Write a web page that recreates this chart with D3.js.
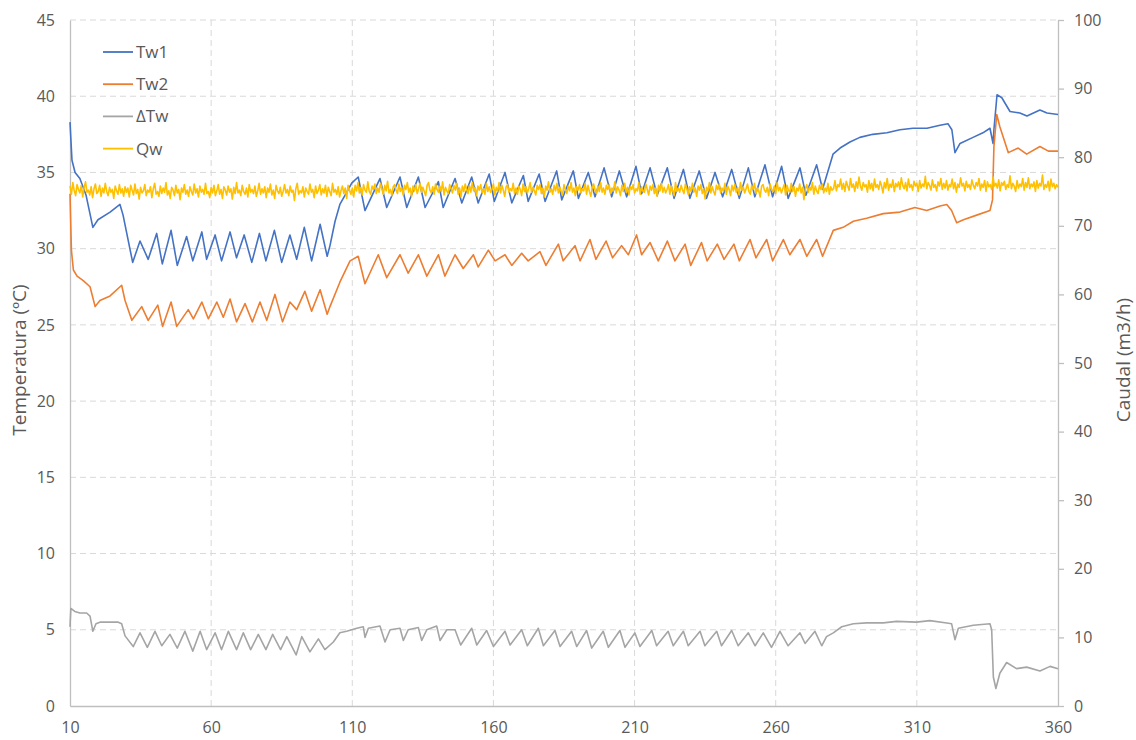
<!DOCTYPE html>
<html>
<head>
<meta charset="utf-8">
<script src="https://cdn.jsdelivr.net/npm/d3@7"></script>
<style>
  body { margin: 0; background: #fff; }
</style>
</head>
<body>
<div id="chart"></div>
<script>
// axis ticks
const xTicks = [10, 60, 110, 160, 210, 260, 310, 360];
const tempTicks = [0, 5, 10, 15, 20, 25, 30, 35, 40, 45];
const flowTicks = [0, 10, 20, 30, 40, 50, 60, 70, 80, 90, 100];

const seriesNames = ['Tw1', 'Tw2', '\u0394Tw', 'Qw'];

// Tw1 [time, ºC] - peaks and troughs
const tw1 = [
  [10, 38.3], [10.7, 35.8], [11.8, 35.0], [13.5, 34.6], [15.7, 33.5], [18.1, 31.4], [19.9, 31.9], [24.2, 32.4], [27.7, 32.9], [28.8, 32.2],
  [32.2, 29.1], [34.8, 30.5], [37.7, 29.3], [40.7, 31.0], [42.7, 29.0], [45.8, 31.2], [48.0, 28.9], [51.3, 30.8], [53.5, 29.2], [56.7, 31.1],
  [58.4, 29.3], [61.4, 30.9], [63.7, 29.2], [66.7, 31.1], [69.0, 29.4], [71.7, 30.9], [74.4, 29.1], [77.1, 31.0], [79.4, 29.2], [82.4, 31.2],
  [85.0, 29.1], [87.9, 30.9], [90.3, 29.3], [93.0, 31.4], [95.6, 29.2], [98.6, 31.6], [101.1, 29.5],
  [102.1, 30.2], [103.9, 31.8], [105.6, 32.9], [107.4, 33.5], [109.8, 34.3],
  [112.1, 34.7], [114.5, 32.5], [119.8, 34.6], [122.2, 32.7], [126.9, 34.7], [129.3, 32.7], [133.4, 34.7], [135.8, 32.7], [140.5, 34.4], [142.2, 32.7],
  [146.4, 34.6], [148.8, 33.0], [152.3, 34.7], [154.6, 33.0], [158.5, 34.9], [160.3, 33.1], [164.1, 35.0], [166.5, 33.0], [170.6, 34.8], [172.3, 33.1],
  [176.2, 34.9], [178.3, 33.1], [182.4, 35.1], [184.2, 33.2], [188.3, 35.1], [190.1, 33.3], [193.6, 35.0], [196.0, 33.4], [199.2, 35.3], [201.9, 33.4],
  [204.6, 35.1], [207.2, 33.4], [210.5, 35.4], [212.5, 33.6], [215.5, 35.3], [218.0, 33.5], [221.6, 35.3], [224.0, 33.3], [227.3, 35.2], [229.6, 33.3],
  [232.9, 35.1], [235.5, 33.3], [238.5, 35.0], [241.2, 33.4], [244.4, 35.2], [247.1, 33.3], [250.3, 35.3], [252.6, 33.4], [256.2, 35.5], [258.9, 33.4],
  [262.1, 35.4], [264.4, 33.3], [268.6, 35.3], [270.7, 33.5], [274.5, 35.5], [276.6, 33.9],
  [280.3, 36.2], [282.8, 36.6], [286.3, 37.0], [289.8, 37.3], [294.4, 37.5], [299.4, 37.6], [304.0, 37.8], [308.6, 37.9], [313.6, 37.9], [318.2, 38.1],
  [321.0, 38.2], [322.4, 37.8], [323.5, 36.3], [325.3, 36.9], [329.9, 37.3], [333.4, 37.6], [335.9, 37.9], [337.0, 36.9], [337.3, 37.8], [338.4, 40.1],
  [340.1, 39.9], [343.0, 39.0], [346.5, 38.9], [349.0, 38.7], [353.6, 39.1], [356.1, 38.9], [360, 38.8]
];

// Tw2 [time, ºC]
const tw2 = [
  [10, 33.6], [10.5, 29.9], [11.2, 28.6], [12.5, 28.2], [14.7, 27.9], [17.1, 27.5], [18.9, 26.2], [20.6, 26.6], [24.2, 26.9], [28.3, 27.6], [29.5, 26.6],
  [31.9, 25.3], [35.4, 26.2], [37.7, 25.3], [41.1, 26.3], [42.8, 24.9], [45.8, 26.5], [47.8, 24.9], [51.9, 26.0], [53.7, 25.4], [56.7, 26.5],
  [59.0, 25.4], [62.0, 26.5], [64.3, 25.5], [66.7, 26.7], [69.0, 25.2], [72.0, 26.4], [74.6, 25.2], [77.3, 26.5], [79.7, 25.3], [82.6, 27.0],
  [85.3, 25.2], [87.9, 26.5], [90.3, 26.0], [93.2, 27.2], [95.6, 25.9], [98.6, 27.3], [101.1, 25.7],
  [102.1, 26.2], [105.6, 27.8], [109.2, 29.2],
  [112.1, 29.5], [114.5, 27.7], [119.2, 29.6], [122.2, 28.1], [126.9, 29.6], [129.8, 28.4], [133.4, 29.6], [136.4, 28.2], [140.5, 29.6], [142.8, 28.2],
  [146.4, 29.6], [149.3, 28.7], [152.9, 29.6], [154.6, 28.8], [158.2, 29.9], [160.6, 29.2], [164.1, 29.6], [166.5, 28.9], [170.0, 29.7], [172.3, 29.2],
  [176.5, 29.8], [178.6, 28.9], [183.0, 30.3], [184.7, 29.2], [188.9, 30.2], [190.7, 29.2], [194.2, 30.6], [196.3, 29.3], [199.9, 30.5], [202.2, 29.4],
  [205.4, 30.2], [207.8, 29.6], [210.7, 30.9], [212.5, 29.6], [215.5, 30.4], [218.4, 29.2], [221.6, 30.5], [224.3, 29.2], [227.9, 30.3], [229.9, 28.9],
  [233.7, 30.4], [235.7, 29.2], [239.3, 30.3], [241.7, 29.3], [245.2, 30.3], [247.1, 29.2], [250.9, 30.6], [253.0, 29.4], [256.8, 30.6], [258.9, 29.2],
  [262.7, 30.6], [265.0, 29.6], [268.6, 30.6], [271.0, 29.5], [274.5, 30.6], [276.6, 29.5],
  [280.4, 31.2], [283.9, 31.4], [287.5, 31.8], [292.2, 32.0], [298.1, 32.3], [304.0, 32.4], [309.3, 32.7], [313.5, 32.5], [318.2, 32.8], [320.6, 32.9],
  [322.3, 32.5], [324.1, 31.7], [326.5, 31.9], [331.2, 32.2], [335.9, 32.5], [336.8, 33.2], [337.3, 36.7], [338.3, 38.8], [339.4, 38.0], [342.4, 36.3],
  [345.9, 36.6], [348.9, 36.2], [353.6, 36.7], [356.6, 36.4], [360, 36.4]
];

// ΔTw [time, ºC]
const dtw = [
  [10, 5.2], [10.3, 6.4], [11.7, 6.2], [13.5, 6.1], [15.9, 6.1], [17.1, 5.9], [18.1, 4.9], [19.2, 5.4], [20.6, 5.5], [24.2, 5.5], [27.1, 5.5], [28.3, 5.4], [29.5, 4.6],
  [32.4, 3.9], [34.8, 4.8], [37.4, 3.85], [40.1, 4.9], [42.5, 3.95], [45.4, 4.7], [48.0, 3.8], [50.7, 4.9], [53.5, 3.6], [56.1, 4.9],
  [58.4, 3.7], [61.4, 4.8], [63.7, 3.7], [66.1, 4.9], [69.0, 3.7], [71.4, 4.8], [74.0, 3.7], [76.7, 4.7], [79.4, 3.7], [81.8, 4.7],
  [84.6, 3.7], [86.8, 4.55], [90.1, 3.35], [92.1, 4.55], [95.0, 3.55], [98.0, 4.4], [100.3, 3.7],
  [103.3, 4.2], [105.6, 4.8], [108.0, 4.9], [111.6, 5.1], [113.9, 5.2], [114.5, 4.5], [115.7, 5.1], [119.8, 5.25], [121.6, 4.2], [123.4, 5.0],
  [126.9, 5.1], [128.1, 4.3], [129.8, 5.0], [133.4, 5.15], [134.6, 4.3], [136.4, 5.0], [139.9, 5.25], [141.1, 4.3], [143.5, 5.0],
  [146.4, 5.0], [148.4, 4.0], [152.3, 5.1], [154.1, 4.0], [157.6, 4.95], [160.0, 3.9], [164.1, 4.9], [165.9, 4.0], [170.0, 5.0], [172.0, 3.95],
  [175.9, 5.1], [177.7, 3.95], [181.8, 4.95], [183.6, 3.9], [187.7, 4.9], [189.5, 3.9], [193.0, 4.95], [194.8, 3.8], [198.9, 4.9], [200.7, 3.85],
  [204.8, 4.95], [206.6, 3.85], [210.1, 4.8], [211.9, 3.9], [216.1, 4.95], [217.8, 3.95], [221.9, 4.9], [223.7, 3.95], [227.3, 4.9], [229.0, 3.95],
  [233.2, 4.9], [234.9, 3.95], [239.1, 4.9], [240.8, 3.95], [244.4, 4.95], [246.7, 3.95], [250.3, 4.8], [252.7, 3.95], [255.6, 4.8], [258.5, 3.85],
  [261.5, 4.9], [264.4, 3.95], [268.6, 4.8], [270.4, 4.1], [273.9, 4.9], [276.3, 3.95], [278.0, 4.55], [280.4, 4.8], [283.4, 5.2], [287.5, 5.4],
  [292.2, 5.45], [298.1, 5.45], [302.8, 5.55], [309.9, 5.5], [314.6, 5.6], [320.6, 5.45], [322.3, 5.4], [323.5, 4.35], [324.7, 5.1], [330.0, 5.3],
  [335.9, 5.4], [336.5, 5.0], [337.1, 1.9], [338.0, 1.15], [339.4, 2.15], [341.8, 2.85], [345.3, 2.45], [348.9, 2.55], [353.6, 2.3], [357.2, 2.6], [360, 2.45]
];

// Qw (m3/h), one reading every half time unit from 10 to 360
const qwStart = 10, qwStep = 0.5;
const qw = [
  75.8, 74.6, 76.3, 75.1, 74.4, 76.0, 75.3, 74.8, 75.9, 74.2, 75.6, 76.4, 74.9, 75.2, 74.5, 75.7, 74.1, 75.4, 76.1, 74.7,
  75.0, 75.9, 74.3, 75.5, 74.8, 76.2, 75.0, 74.4, 75.6, 74.9, 75.3, 74.0, 75.8, 75.1, 74.6, 76.0, 74.8, 75.4, 74.3, 75.7,
  74.9, 75.5, 74.2, 75.9, 75.2, 74.5, 76.1, 74.7, 75.3, 73.9, 75.6, 74.8, 75.1, 76.0, 74.4, 75.2, 74.9, 75.7, 74.1, 75.4,
  76.2, 74.6, 75.0, 74.3, 75.8, 74.7, 75.5, 74.9, 76.3, 74.5, 75.1, 74.0, 75.6, 75.2, 74.4, 75.9, 74.8, 75.3, 73.8, 75.5,
  74.9, 76.0, 74.6, 75.2, 74.3, 75.7, 75.0, 74.5, 76.1, 74.8, 75.4, 74.2, 75.8, 74.9, 75.3, 74.6, 76.2, 74.7, 75.0, 74.1,
  75.6, 74.8, 75.9, 74.4, 75.1, 76.0, 74.6, 75.3, 74.0, 75.7, 75.2, 74.5, 75.8, 74.9, 75.4, 73.9, 75.6, 74.7, 76.3, 74.8,
  75.2, 74.4, 75.9, 75.0, 74.6, 75.5, 74.2, 76.0, 74.9, 75.3, 74.7, 75.8, 74.3, 75.1, 76.2, 74.6, 75.4, 74.8, 75.7, 74.1,
  75.5, 74.9, 76.1, 74.5, 75.2, 74.0, 75.9, 75.1, 74.7, 75.6, 74.3, 75.0, 76.0, 74.8, 75.3, 74.4, 75.8, 74.9, 75.2, 73.7,
  75.4, 76.2, 74.6, 75.1, 74.8, 75.7, 74.2, 75.5, 75.0, 74.6, 76.1, 74.9, 75.3, 74.1, 75.8, 74.7, 75.2, 76.0, 74.5, 75.4,
  74.8, 75.9, 74.3, 75.6, 75.0, 74.4, 76.2, 74.9, 75.3, 74.6, 75.7, 74.2, 75.1, 75.8, 74.7, 75.5, 74.0, 75.9, 75.2, 74.6,
  75.5,
  74.2, 75.9, 75.1, 76.3, 74.8, 75.6, 74.5, 76.0, 75.2, 74.9, 76.4, 75.0, 74.6, 75.8, 75.3, 76.1, 74.7, 75.5, 74.9, 76.2,
  75.4, 74.6, 75.9, 75.1, 76.5, 74.8, 75.3, 74.4, 75.7, 76.0, 75.2, 74.7, 76.1, 75.0, 75.6, 74.5, 75.9, 75.3, 76.3, 74.9,
  75.5, 74.3, 75.8, 75.1, 76.0, 74.7, 75.4, 76.2, 74.9, 75.6, 75.0, 74.4, 75.9, 76.3, 75.2, 74.8, 75.7, 74.6, 76.1, 75.3,
  74.9, 75.8, 75.0, 76.4, 74.5, 75.6, 75.1, 74.7, 76.0, 75.4, 74.8, 75.9, 75.2, 76.2, 74.6, 75.5, 74.2, 75.8, 75.0, 76.1,
  75.3, 74.7, 75.9, 74.9, 76.3, 75.1, 75.6, 74.4, 75.8, 75.2, 76.0, 74.8, 75.4, 74.6, 76.2, 75.0, 75.7, 74.9, 75.3, 76.1,
  74.5, 75.6, 75.0, 76.3, 74.8, 75.9, 75.2, 74.3, 75.7, 76.0, 74.9, 75.4, 75.1, 76.2, 74.7, 75.5, 74.6, 75.8, 75.3, 74.4,
  76.1, 75.0, 75.7, 74.8, 75.4, 76.3, 74.9, 75.6, 75.1, 74.5, 75.9, 75.3, 76.0, 74.7, 75.5, 74.2, 75.8, 75.2, 76.4, 74.9,
  75.4, 74.6, 75.9, 75.1, 76.2, 74.8, 75.6, 75.0, 74.5, 76.0, 75.3, 74.7, 75.8, 75.1, 76.3, 74.9, 75.5, 74.4, 75.7, 75.2,
  76.0, 74.8, 75.4, 75.1, 76.2, 74.6, 75.9, 75.0, 74.3, 75.6, 76.1, 75.2, 74.7, 75.8, 75.0, 76.3, 74.9, 75.5, 74.6, 75.9,
  75.3, 76.0, 74.7, 75.5, 75.1, 76.4, 74.8, 75.7, 75.2, 74.4, 75.9, 75.0, 76.2, 74.9, 75.6, 74.5, 75.8, 75.3, 76.0, 74.8,
  75.4, 75.1, 76.3, 74.6, 75.7, 75.0, 74.9, 76.1, 75.3, 74.5, 75.8, 75.2, 76.0, 74.7, 75.5, 74.3, 75.9, 75.1, 76.2, 74.9,
  75.6, 74.8, 75.3, 76.0, 74.6, 75.8, 75.1, 74.4, 76.3, 75.0, 75.5, 74.9, 75.9, 75.2, 74.7, 76.1, 75.4, 74.6, 75.7, 75.0,
  76.2, 74.9, 75.5, 74.3, 75.8, 75.2, 76.0, 74.7, 75.4, 73.9, 75.6, 75.1, 76.3, 74.8, 75.7, 75.0, 74.5, 75.9, 75.3, 76.1,
  74.8, 75.5, 75.0, 76.2, 74.6, 75.8, 75.3, 74.4, 75.9, 75.1, 76.0, 74.9, 75.6, 74.5, 76.3, 75.2, 75.7, 74.8, 75.4, 76.1,
  75.0, 74.6, 75.9, 75.3, 76.2, 74.7, 75.5, 75.1, 74.2, 75.8, 76.0, 75.2, 74.9, 75.6, 74.4, 76.1, 75.3, 75.0, 75.8, 74.7,
  76.3, 75.1, 75.6, 74.8, 75.4, 76.0, 74.5, 75.9, 75.2, 74.9, 76.2, 75.0, 75.7, 74.3, 75.5, 75.1, 76.1, 74.8, 75.6, 73.8,
  75.4, 76.0, 74.9, 75.7, 75.2, 76.3, 74.6, 75.8, 75.1, 74.7, 75.9, 75.3, 76.1, 74.8, 75.5, 75.0, 76.2, 74.6, 75.7, 75.2,
  75.4, 76.6, 75.1, 76.0, 75.7, 76.8, 75.3, 76.2, 75.0, 76.5, 75.8, 75.2, 76.9, 75.6, 76.1, 75.0, 76.4, 75.5, 77.1, 75.8,
  75.2, 76.3, 75.7, 76.0, 74.9, 76.6, 75.4, 76.2, 75.1, 76.8, 75.6, 76.0, 75.3, 76.5, 75.8, 74.8, 76.3, 75.5, 76.9, 75.2,
  76.1, 75.6, 76.7, 75.0, 76.2, 75.7, 76.4, 75.3, 77.0, 75.9, 75.4, 76.3, 75.1, 76.8, 75.6, 76.0, 75.2, 76.5, 75.8, 76.2,
  75.0, 76.6, 75.5, 76.1, 75.7, 77.2, 75.4, 76.3, 75.9, 75.2, 76.7, 75.6, 76.0, 75.1, 76.4, 75.8, 76.9, 75.3, 76.2, 75.5,
  76.6, 75.2, 76.0, 75.7, 76.8, 75.4, 76.3, 74.9, 76.1, 75.6, 77.0, 75.8, 76.2, 75.1, 76.5, 75.6, 76.0, 75.3, 76.7, 75.9,
  75.4, 76.3, 75.8, 76.9, 75.2, 76.1, 75.6, 76.6, 75.0, 76.4, 75.7, 76.0, 75.3, 77.1, 75.8, 76.2, 75.5, 76.7, 75.1, 76.3,
  75.9, 76.5, 75.3, 76.0, 75.6, 77.3, 75.4, 76.2, 75.8, 75.0, 76.6, 75.5, 76.1, 75.7, 76.9, 75.2, 76.3, 75.6, 77.0, 75.4,
  76.1, 75.7, 76.4, 75.0, 76.6, 75.5, 76.2, 75.8, 77.4, 75.3, 76.0, 75.6, 76.5, 75.1, 76.8, 75.7, 76.2, 75.4, 76.0, 75.6
];

const colors = ['#4472c4', '#ed7d31', '#a5a5a5', '#ffc000'];
const textColor = '#595959',
  gridColor = '#d9d9d9',
  axisColor = '#bfbfbf',
  fontFamily = '"Segoe UI", "Open Sans", sans-serif';

const width = 1136, height = 740;
const margin = { top: 20, right: 78, bottom: 34, left: 70 };
const plotW = width - margin.left - margin.right,
  plotH = height - margin.top - margin.bottom;

const svg = d3.select('#chart')
  .append('svg')
  .attr('width', width)
  .attr('height', height)
  .style('font-family', fontFamily);

const g = svg.append('g')
  .attr('transform', 'translate(' + margin.left + ',' + margin.top + ')');

const x = d3.scaleLinear().domain([10, 360]).range([0, plotW]);
const yTemp = d3.scaleLinear().domain([0, 45]).range([plotH, 0]);
const yFlow = d3.scaleLinear().domain([0, 100]).range([plotH, 0]);

// dashed grid
g.append('g')
  .selectAll('line')
  .data(tempTicks.filter(d => d > 0))
  .enter()
  .append('line')
  .attr('x1', 0).attr('x2', plotW)
  .attr('y1', d => yTemp(d)).attr('y2', d => yTemp(d))
  .attr('stroke', gridColor)
  .attr('stroke-dasharray', '6,4');

g.append('g')
  .selectAll('line')
  .data(xTicks.slice(1, -1))
  .enter()
  .append('line')
  .attr('x1', d => x(d)).attr('x2', d => x(d))
  .attr('y1', 0).attr('y2', plotH)
  .attr('stroke', gridColor)
  .attr('stroke-dasharray', '6,4');

// axes
const xAxis = g.append('g')
  .attr('transform', 'translate(0,' + plotH + ')')
  .call(d3.axisBottom(x).tickValues(xTicks).tickFormat(d3.format('d')).tickSize(0).tickPadding(16));

const yAxisL = g.append('g')
  .call(d3.axisLeft(yTemp).tickValues(tempTicks).tickSize(0).tickPadding(15));

const yAxisR = g.append('g')
  .attr('transform', 'translate(' + plotW + ',0)')
  .call(d3.axisRight(yFlow).tickValues(flowTicks).tickSize(6).tickSizeOuter(0).tickPadding(10));

[xAxis, yAxisL, yAxisR].forEach(a => {
  a.select('.domain').attr('stroke', axisColor).attr('stroke-width', 1.3);
  a.selectAll('.tick line').attr('stroke', axisColor).attr('stroke-width', 1.3);
  a.selectAll('text')
    .attr('fill', textColor)
    .style('font-size', '16px')
    .style('font-family', fontFamily);
});

// series
const line = yScale => d3.line()
  .x(d => x(d[0]))
  .y(d => yScale(d[1]));

const qwPoints = qw.map((v, i) => [qwStart + i * qwStep, v]);

const seriesData = [
  { data: tw1, y: yTemp },
  { data: tw2, y: yTemp },
  { data: dtw, y: yTemp },
  { data: qwPoints, y: yFlow }
];

seriesData.forEach((s, i) => {
  g.append('path')
    .datum(s.data)
    .attr('fill', 'none')
    .attr('stroke', colors[i])
    .attr('stroke-width', 1.6)
    .attr('stroke-linejoin', 'round')
    .attr('d', line(s.y));
});

// axis titles
svg.append('text')
  .attr('transform', 'translate(26,360) rotate(-90)')
  .attr('text-anchor', 'middle')
  .attr('fill', textColor)
  .style('font-size', '19px')
  .text('Temperatura (ºC)');

svg.append('text')
  .attr('transform', 'translate(1130,360) rotate(-90)')
  .attr('text-anchor', 'middle')
  .attr('fill', textColor)
  .style('font-size', '19px')
  .text('Caudal (m3/h)');

// legend
const legend = g.append('g')
  .attr('transform', 'translate(33,32)');

const rows = legend.selectAll('g')
  .data(seriesNames)
  .enter()
  .append('g')
  .attr('transform', (d, i) => 'translate(0,' + (i * 32.2) + ')');

rows.append('line')
  .attr('x1', 0).attr('x2', 30)
  .attr('stroke', (d, i) => colors[i])
  .attr('stroke-width', 1.8);

rows.append('text')
  .attr('x', 33)
  .attr('dy', '0.35em')
  .attr('fill', textColor)
  .style('font-size', '17px')
  .text(d => d);
</script>
</body>
</html>
